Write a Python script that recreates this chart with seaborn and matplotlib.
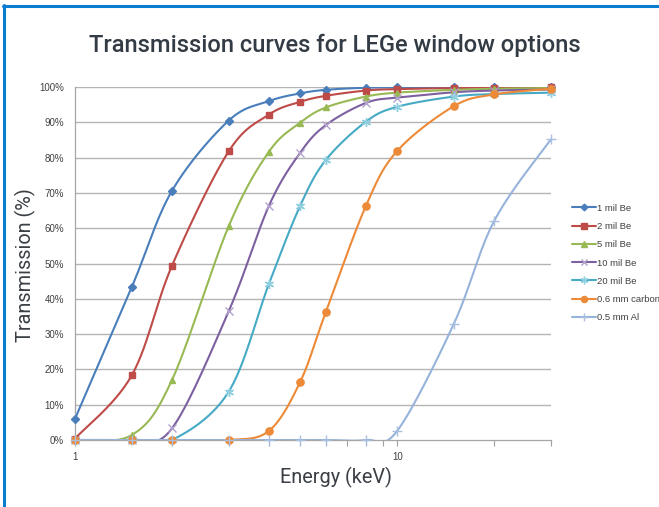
import numpy as np
import pandas as pd
import matplotlib
matplotlib.use("Agg")
import matplotlib.pyplot as plt
from matplotlib.lines import Line2D
from matplotlib.ticker import FixedLocator, NullFormatter, FuncFormatter
import seaborn as sns

# ---------------- data ----------------
energy = [1, 1.5, 2, 3, 4, 5, 6, 8, 10, 15, 20, 30]
series_names = ["1 mil Be", "2 mil Be", "5 mil Be", "10 mil Be", "20 mil Be",
                "0.6 mm carbon", "0.5 mm Al"]
be_1mil = [6.0, 43.3, 70.6, 90.5, 96.0, 98.2, 99.2, 99.8, 99.9, 100.0, 100.0, 100.0]
be_2mil = [0.4, 18.3, 49.4, 81.8, 92.2, 95.8, 97.5, 99.0, 99.4, 99.7, 99.8, 99.9]
be_5mil = [0.0, 1.4, 17.0, 60.6, 81.7, 89.9, 94.2, 97.3, 98.4, 99.2, 99.5, 99.7]
be_10mil = [0.0, 0.0, 3.3, 36.5, 66.4, 81.4, 89.2, 95.5, 97.0, 98.5, 99.0, 99.3]
be_20mil = [0.0, 0.0, 0.0, 13.7, 44.3, 66.4, 79.3, 90.2, 94.4, 97.3, 98.0, 98.4]
carbon_06mm = [0.0, 0.0, 0.0, 0.0, 2.6, 16.5, 36.2, 66.4, 81.9, 94.6, 97.9, 99.5]
al_05mm = [0.0, 0.0, 0.0, 0.0, 0.0, 0.0, 0.0, 0.0, 2.6, 33.0, 62.1, 85.2]
all_values = [be_1mil, be_2mil, be_5mil, be_10mil, be_20mil, carbon_06mm, al_05mm]

y_ticks = [0, 10, 20, 30, 40, 50, 60, 70, 80, 90, 100]
x_major = [1, 10]
x_minor = [2, 3, 4, 5, 6, 7, 8, 9, 20, 30]

colors = ["#4A7EBB", "#BE4B48", "#98B954", "#7D60A0", "#46AAC5", "#EC8A38", "#96B3DB"]
marker_colors = ["#4A7EBB", "#BE4B48", "#98B954", "#B3A2CC", "#8FCFE0", "#EC8A38", "#A9C0E0"]
markers = ["D", "s", "^", "x", (6, 2, 0), "o", "+"]
msizes = [4.0, 5.0, 5.0, 5.5, 6.5, 5.2, 6.5]

# ---------------- smooth line (Excel-like Catmull-Rom in log-x space) ----------------
def smooth(xs, ys, n=30):
    lx = np.log10(np.asarray(xs, float))
    yy = np.asarray(ys, float)
    P = np.column_stack([lx, yy])
    P = np.vstack([P[0], P, P[-1]])
    out = []
    t = np.linspace(0, 1, n)[:, None]
    for i in range(1, len(P) - 2):
        p0, p1, p2, p3 = P[i - 1], P[i], P[i + 1], P[i + 2]
        c1 = p1 + (p2 - p0) / 6.0
        c2 = p2 - (p3 - p1) / 6.0
        seg = ((1 - t) ** 3) * p1 + 3 * ((1 - t) ** 2) * t * c1 + 3 * (1 - t) * t ** 2 * c2 + t ** 3 * p2
        out.append(seg if i == 1 else seg[1:])
    out = np.vstack(out)
    return 10 ** out[:, 0], out[:, 1]

rows = []
for name, vals in zip(series_names, all_values):
    sx, sy = smooth(energy, vals)
    for k, (a, b) in enumerate(zip(sx, sy)):
        rows.append({"Energy": a, "T": b, "series": name, "order": k})
curve_df = pd.DataFrame(rows)

# ---------------- figure ----------------
sns.set_theme(style="white")
plt.rcParams["font.family"] = ["Liberation Sans", "DejaVu Sans"]

fig = plt.figure(figsize=(6.59, 5.07), dpi=100)
ax = fig.add_axes([75 / 659, 67 / 507, 476 / 659, 353 / 507])

ax.set_xscale("log")
for yv in y_ticks[1:]:
    ax.axhline(yv, color="#B4B4B4", lw=1.0, zorder=0)

sns.lineplot(data=curve_df, x="Energy", y="T", hue="series", palette=dict(zip(series_names, colors)),
             hue_order=series_names, sort=False, estimator=None, units="series",
             lw=1.5, legend=False, ax=ax, zorder=2)

for name, vals, c, mc, m, ms in zip(series_names, all_values, colors, marker_colors, markers, msizes):
    ax.plot(energy, vals, linestyle="none", marker=m, markersize=ms, color=mc,
            markeredgecolor=mc, markeredgewidth=1.0, zorder=3, clip_on=False)

ax.set_xlim(1, 30)
ax.set_ylim(0, 100)
ax.set_yticks(y_ticks)
ax.yaxis.set_major_formatter(FuncFormatter(lambda v, p: f"{int(v)}%"))
ax.xaxis.set_major_locator(FixedLocator(x_major))
ax.xaxis.set_minor_locator(FixedLocator(x_minor))
ax.xaxis.set_major_formatter(FuncFormatter(lambda v, p: f"{int(v)}"))
ax.xaxis.set_minor_formatter(NullFormatter())
ax.tick_params(axis="x", which="both", direction="out", length=4, width=0.8, color="#A0A0A0",
               labelsize=7, labelcolor="#404040", pad=5, bottom=True)
ax.tick_params(axis="y", which="both", length=0, labelsize=7, labelcolor="#404040", pad=8)

for s in ["top", "right"]:
    ax.spines[s].set_visible(False)
for s in ["left", "bottom"]:
    ax.spines[s].set_color("#A6A6A6")
    ax.spines[s].set_linewidth(0.9)

ax.set_xlabel("")
ax.set_ylabel("")
fig.text(336 / 659, 1 - 477 / 507, "Energy (keV)", ha="center", va="center",
         fontsize=14.3, family=["Roboto", "DejaVu Sans"], color="#3A3F45")
fig.text(25 / 659, 1 - 265 / 507, "Transmission (%)", ha="center", va="center", rotation=90,
         fontsize=14.3, family=["Roboto", "DejaVu Sans"], color="#3A3F45")

fig.text(335 / 659, 1 - 45 / 507, "Transmission curves for LEGe window options", ha="center", va="center",
         fontsize=17.1, family=["Roboto", "DejaVu Sans"], weight="medium", color="#333B45")

handles = [Line2D([0], [0], color=c, lw=1.5, marker=m, markersize=ms * 0.85, markerfacecolor=mc,
                  markeredgecolor=mc) for c, mc, m, ms in zip(colors, marker_colors, markers, msizes)]
fig.legend(handles, series_names, loc="upper left", bbox_to_anchor=(568 / 659, 1 - 200 / 507),
           frameon=False, fontsize=6.8, handlelength=2.6, handletextpad=0.1, labelspacing=0.98,
           borderaxespad=0, labelcolor="#404040")

# figure frame (blue on left and top)
fig.add_artist(Line2D([4 / 659, 4 / 659], [0, 1 - 5 / 507], color="#0A7DD1", lw=2.2, transform=fig.transFigure))
fig.add_artist(Line2D([3 / 659, 1], [1 - 6 / 507, 1 - 6 / 507], color="#0A7DD1", lw=2.2, transform=fig.transFigure))

fig.savefig("out.png", dpi=100)
